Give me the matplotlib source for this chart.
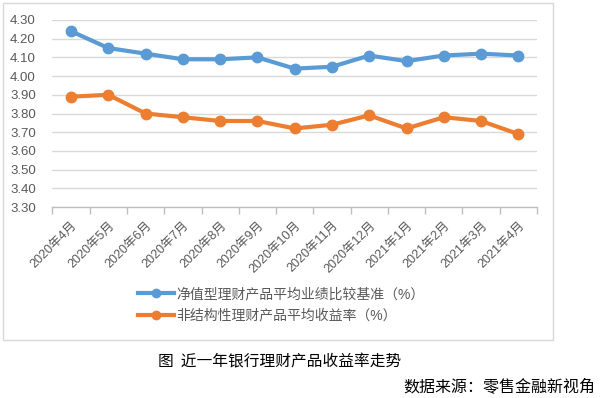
import matplotlib
matplotlib.use("Agg")
import matplotlib.pyplot as plt
from matplotlib.patches import Rectangle
from matplotlib.lines import Line2D

plt.rcParams['font.family'] = ['Liberation Sans', 'Noto Sans CJK SC', 'DejaVu Sans']

months = ["2020年4月", "2020年5月", "2020年6月", "2020年7月", "2020年8月", "2020年9月",
          "2020年10月", "2020年11月", "2020年12月", "2021年1月", "2021年2月", "2021年3月", "2021年4月"]
nav_benchmark = [4.24, 4.15, 4.12, 4.09, 4.09, 4.10, 4.04, 4.05, 4.11, 4.08, 4.11, 4.12, 4.11]
nonstruct_yield = [3.89, 3.90, 3.80, 3.78, 3.76, 3.76, 3.72, 3.74, 3.79, 3.72, 3.78, 3.76, 3.69]
series_names = ["净值型理财产品平均业绩比较基准（%）", "非结构性理财产品平均收益率（%）"]
yticks = [3.30, 3.40, 3.50, 3.60, 3.70, 3.80, 3.90, 4.00, 4.10, 4.20, 4.30]
title = "图  近一年银行理财产品收益率走势"
source = "数据来源：零售金融新视角"

W, H = 600, 398
fig = plt.figure(figsize=(W / 100, H / 100), dpi=100)

# chart border box
fig.patches.append(Rectangle((3 / W, 1 - 340 / H), 550 / W, 337 / H, transform=fig.transFigure,
                             fill=False, edgecolor='#d9d9d9', linewidth=1.0))

left, right, top, bottom = 52.4, 537, 20, 207
ax = fig.add_axes([left / W, 1 - bottom / H, (right - left) / W, (bottom - top) / H])

blue = '#5B9BD5'
orange = '#ED7D31'
x = list(range(len(months)))
ax.plot(x, nav_benchmark, color=blue, lw=3, marker='o', ms=7.5, zorder=3, solid_capstyle='round')
ax.plot(x, nonstruct_yield, color=orange, lw=3, marker='o', ms=7.5, zorder=3, solid_capstyle='round')

ax.set_xlim(-0.5, len(months) - 0.5)
ax.set_ylim(3.30, 4.30)
ax.set_yticks(yticks)
ax.set_yticklabels([f"{v:.2f}" for v in yticks], fontsize=9.5, color='#595959')
ax.yaxis.grid(True, color='#d9d9d9', lw=1)
ax.set_axisbelow(True)
ax.tick_params(axis='y', length=0, pad=12)

ax.set_xticks(x)
ax.set_xticklabels(months, rotation=45, ha='right', rotation_mode='anchor', fontsize=9, color='#595959')
ax.tick_params(axis='x', which='major', length=0, pad=9)
ax.set_xticks([i - 0.5 for i in range(len(months) + 1)], minor=True)
ax.tick_params(axis='x', which='minor', length=5, color='#bfbfbf', width=1)

for s in ['left', 'right', 'top']:
    ax.spines[s].set_visible(False)
ax.spines['bottom'].set_color('#bfbfbf')
ax.spines['bottom'].set_linewidth(1)

handles = [Line2D([], [], color=blue, lw=3, marker='o', ms=6),
           Line2D([], [], color=orange, lw=3, marker='o', ms=6)]
fig.legend(handles, series_names, loc='upper left', bbox_to_anchor=(138 / W, 1 - 287 / H),
           frameon=False, fontsize=10, labelcolor='#595959', handlelength=2.6, handletextpad=0.15,
           labelspacing=0.55, borderpad=0, borderaxespad=0)

fig.text(280 / W, 1 - 362 / H, title, ha='center', va='center', fontsize=11.3, color='black',
         family=['Noto Sans CJK SC'], fontweight='medium')
fig.text(595 / W, 1 - 387 / H, source, ha='right', va='center', fontsize=11.5, color='black',
         family=['Noto Sans CJK SC'], fontweight='medium')

fig.savefig("out.png", dpi=100)
